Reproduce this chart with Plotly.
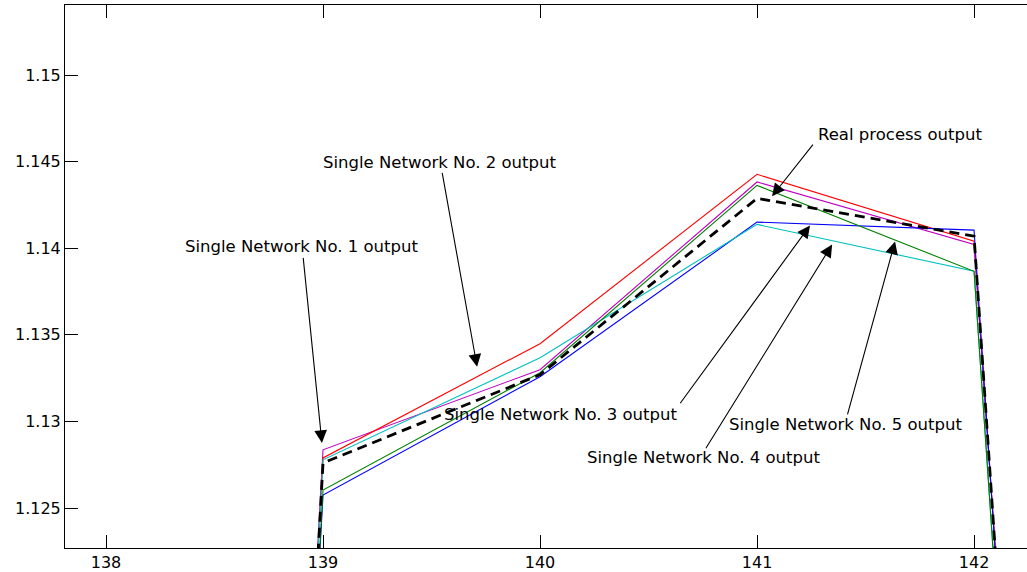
import numpy as np
import plotly.graph_objects as go

# ---- data ----
x_vals = [138, 139, 140, 141, 142, 143]
real_process = [0.900, 1.12760, 1.13270, 1.14288, 1.14070, 0.955]
net1 = [0.900, 1.12836, 1.13299, 1.14383, 1.14022, 0.960]   # magenta
net2 = [0.900, 1.12789, 1.13449, 1.14427, 1.14041, 0.960]   # red
net3 = [0.900, 1.12575, 1.13258, 1.14151, 1.14105, 0.951]   # blue
net4 = [0.900, 1.12778, 1.13368, 1.14138, 1.13867, 0.956]   # cyan
net5 = [0.900, 1.12604, 1.13281, 1.14363, 1.13867, 0.955]   # green

x_ticks = [138, 139, 140, 141, 142]
y_ticks = [1.125, 1.13, 1.135, 1.14, 1.145, 1.15]
y_tick_text = ["1.125", "1.13", "1.135", "1.14", "1.145", "1.15"]

labels = ["Single Network No. 1 output", "Single Network No. 2 output",
          "Single Network No. 3 output", "Single Network No. 4 output",
          "Single Network No. 5 output", "Real process output"]

FONT = "DejaVu Sans"

fig = go.Figure()
series = [
    (net1, "rgb(191,0,191)", labels[0]),
    (net2, "rgb(255,0,0)", labels[1]),
    (net3, "rgb(0,0,255)", labels[2]),
    (net4, "rgb(0,191,191)", labels[3]),
    (net5, "rgb(0,128,0)", labels[4]),
]
for ys, col, name in series:
    fig.add_trace(go.Scatter(x=x_vals, y=ys, mode="lines", name=name,
                             line=dict(color=col, width=1.1), showlegend=False))
fig.add_trace(go.Scatter(x=x_vals, y=real_process, mode="lines", name=labels[5],
                         line=dict(color="black", width=2.8, dash="10px,6px"),
                         showlegend=False))

# annotation arrows: tip (x, y), tail (x, y), label centre (x, y)
arrow_specs = [
    (138.995, 1.12876, 138.908, 1.13953, 138.903, 1.14011),
    (139.710, 1.13316, 139.548, 1.14444, 139.539, 1.14497),
    (141.244, 1.14132, 140.641, 1.13096, 140.092, 1.13038),
    (141.346, 1.14022, 140.760, 1.12836, 140.751, 1.12789),
    (141.636, 1.14039, 141.415, 1.13032, 141.406, 1.12980),
    (141.069, 1.14300, 141.263, 1.14607, 141.659, 1.14659),
]

for i, (tx, ty, axx, ayy, lx, ly) in enumerate(arrow_specs):
    fig.add_annotation(x=tx, y=ty, ax=axx, ay=ayy, xref="x", yref="y",
                       axref="x", ayref="y", text="", showarrow=True,
                       arrowhead=2, arrowsize=2.3, arrowwidth=1.1,
                       arrowcolor="black", standoff=0)
    fig.add_annotation(x=lx, y=ly, xref="x", yref="y", text=labels[i],
                       showarrow=False, xanchor="center", yanchor="middle",
                       font=dict(family=FONT, size=16.5, color="black"))

fig.update_layout(
    width=1027, height=572,
    margin=dict(l=65, r=0, t=5, b=24),
    paper_bgcolor="white", plot_bgcolor="white",
    showlegend=False,
    font=dict(family=FONT, size=16, color="black"),
)
fig.update_xaxes(range=[137.811, 142.244], tickvals=x_ticks,
                 ticktext=[str(v) for v in x_ticks],
                 showgrid=False, zeroline=False, showline=True,
                 linecolor="black", linewidth=1, mirror="ticks",
                 ticks="inside", ticklen=13, tickcolor="black", tickwidth=1,
                 tickfont=dict(family=FONT, size=16))
fig.update_yaxes(range=[1.12269, 1.15405], tickvals=y_ticks, ticktext=y_tick_text,
                 showgrid=False, zeroline=False, showline=True,
                 linecolor="black", linewidth=1, mirror=False,
                 ticks="inside", ticklen=13, tickcolor="black", tickwidth=1,
                 tickfont=dict(family=FONT, size=16))

fig.write_html("out.html", config={"displayModeBar": False},
               post_script="document.body.style.margin='0';document.body.style.overflow='hidden';")
